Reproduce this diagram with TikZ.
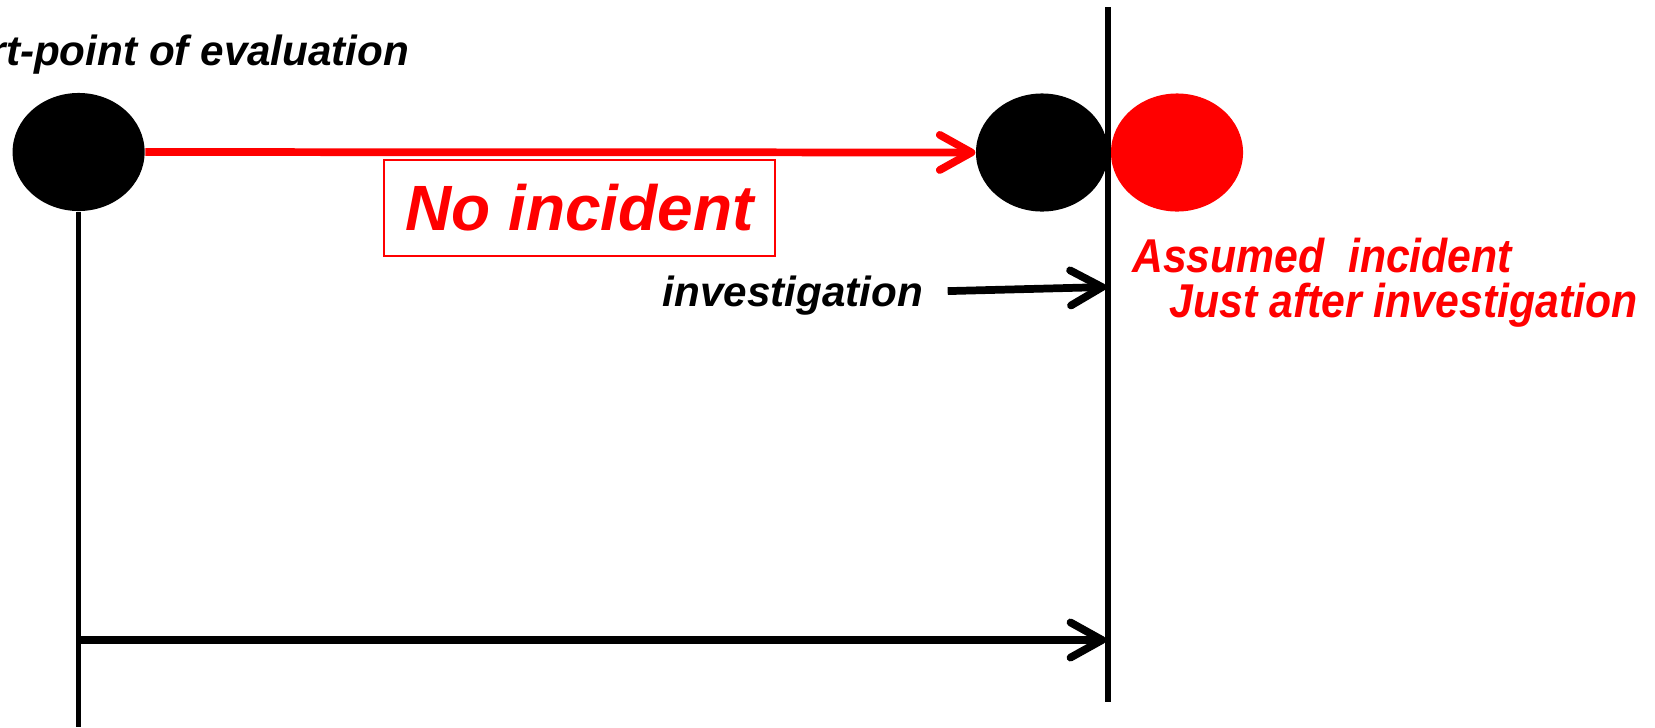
\documentclass[tikz,border=0pt]{standalone}
\usepackage{fontspec}
\setmainfont{Liberation Sans}
\newfontfamily\narrowsans[FakeStretch=0.9]{Liberation Sans}
\usetikzlibrary{arrows.meta, shapes.geometric}

\begin{document}
\begin{tikzpicture}[
x=0.01cm, y=-0.01cm,
blob/.style={ellipse, fill=black, inner sep=0, minimum width=1.32cm, minimum height=1.18cm},
tag/.style={inner sep=0, font=\bfseries\itshape\fontsize{12}{14}\selectfont},
redtag/.style={inner sep=0, text=red, font=\narrowsans\bfseries\itshape\fontsize{13.5}{16}\selectfont},
redbox/.style={draw=red, line width=0.6pt, text=red, minimum width=3.91cm, minimum height=0.965cm, font=\bfseries\itshape\fontsize{18.2}{22}\selectfont},
arrow/.style={-{Straight Barb[length=9pt, width=10pt, round]}, line width=2.2pt},
timeline/.style={line width=1.5pt}
]
\useasboundingbox (0,0) rectangle (1655,727);

\node[blob] (start) at (78.6,152) {};
\node[blob] (stop) at (1042,152.5) {};
\node[blob, fill=red] (incident) at (1177,152.5) {};

\node[tag, anchor=base east] (startlabel) at (410,65)
{Start-point of evaluation};

\node[redbox] (noinc) at (579.5,208)
{No incident};

\node[tag, anchor=base west] (invlabel) at (662,306)
{investigation};

\node[redtag, anchor=base west] (assumed) at (1131.5,272)
{Assumed~~incident};
\node[redtag, anchor=base west] (justafter) at (1169,317)
{Just after investigation};

\coordinate (linetop) at (1108,7.4);
\coordinate (linebot) at (1108,702);
\coordinate (axisbot) at (78.6,727);
\coordinate (invtip) at (1106,287);
\coordinate (evalfrom) at (78.6,640);
\coordinate (evalto) at (1106,640);

\draw[arrow, red] (start) -- (stop);
\draw[timeline] (linetop) -- (linebot);
\draw[timeline] (start) -- (axisbot);
\draw[arrow] (evalfrom) -- (evalto);
\draw[arrow, shorten <=0.24cm] (invlabel) -- (invtip);

\end{tikzpicture}
\end{document}
